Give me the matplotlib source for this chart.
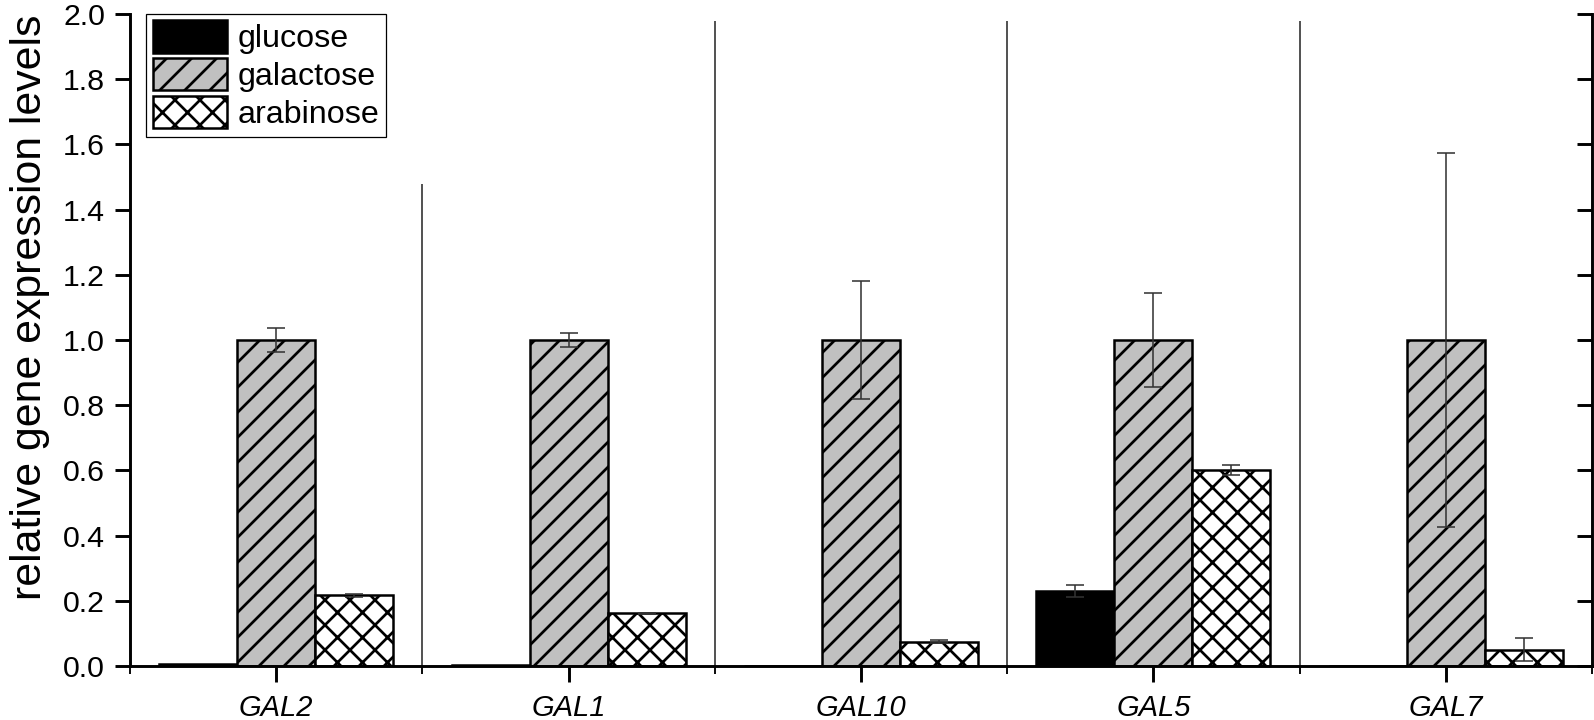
import matplotlib.pyplot as plt
import numpy as np

# Data
genes = ['GAL2', 'GAL1', 'GAL10', 'GAL5', 'GAL7']
glucose = [0.006, 0.004, 0.0, 0.231, 0.0]
glucose_err = [0.0, 0.0, 0.0, 0.018, 0.0]
galactose = [1.0, 1.0, 1.0, 1.0, 1.0]
galactose_err = [0.037, 0.022, 0.18, 0.144, 0.575]
arabinose = [0.217, 0.162, 0.075, 0.602, 0.05]
arabinose_err = [0.005, 0.002, 0.004, 0.016, 0.036]
divider_tops = [1.48, 1.98, 1.98, 1.98]

plt.rcParams['font.family'] = ['Liberation Sans', 'DejaVu Sans']
plt.rcParams['hatch.linewidth'] = 1.3

bar_width = 0.8 / 3
x = np.arange(len(genes))

fig = plt.figure(figsize=(1594 / 150, 720 / 150), dpi=150)
ax = fig.add_axes([130 / 1594, 1 - 666 / 720, 1462 / 1594, 652 / 720])

series = [
    (glucose, glucose_err, 'glucose', 'black', None),
    (galactose, galactose_err, 'galactose', '#c0c0c0', '//'),
    (arabinose, arabinose_err, 'arabinose', 'white', 'xx'),
]
for k, (vals, errs, name, color, hatch) in enumerate(series):
    pos = x + (k - 1) * bar_width
    ax.bar(pos, vals, width=bar_width, color=color, edgecolor='black',
           hatch=hatch, linewidth=1.2, label=name, zorder=2)
    # error bars only where an error exists
    mask = np.array(errs) > 0
    ax.errorbar(pos[mask], np.array(vals)[mask], yerr=np.array(errs)[mask],
                fmt='none', ecolor='#333333', elinewidth=0.75, capsize=4.5,
                capthick=0.75, zorder=3)

# thin divider lines between genes
ax.vlines(x[:-1] + 0.5, 0, divider_tops, color='#333333', linewidth=0.8, zorder=1)

ax.set_xlim(-0.5, len(genes) - 0.5)
ax.set_ylim(0, 2.0)
yticks = np.arange(0, 2.01, 0.2)
ax.set_yticks(yticks)
ax.set_yticklabels(['%.1f' % v for v in yticks])
ax.set_xticks(x)
ax.set_xticklabels(genes, fontstyle='italic')
ax.set_xticks(np.arange(-0.5, len(genes), 1), minor=True)

ax.tick_params(axis='y', direction='out', length=7, width=1.4, labelsize=14.5, pad=5)
ax.tick_params(axis='x', which='major', direction='out', length=7.5, width=1.4,
               labelsize=14, pad=6)
ax.tick_params(axis='x', which='minor', direction='out', length=3.8, width=0.9)

for side in ['left', 'bottom']:
    ax.spines[side].set_linewidth(1.4)
ax.spines['top'].set_visible(False)
ax.spines['right'].set_visible(False)

# right axis: inward ticks, no labels
sec = ax.secondary_yaxis('right')
sec.set_yticks(yticks)
sec.tick_params(direction='in', length=7, width=1.4, labelright=False)
sec.spines['right'].set_linewidth(1.4)

ax.set_ylabel('relative gene expression levels', fontsize=20.5)
ax.yaxis.set_label_coords(-0.055, 0.55)

leg = ax.legend(loc='upper left', bbox_to_anchor=(0.011, 1.0), borderaxespad=0,
                fontsize=15.5, fancybox=False, edgecolor='black', framealpha=1,
                handlelength=2.3, handleheight=1.15, labelspacing=0.12,
                borderpad=0.2, handletextpad=0.35)
leg.get_frame().set_linewidth(0.6)

plt.savefig('out.png', dpi=150)
